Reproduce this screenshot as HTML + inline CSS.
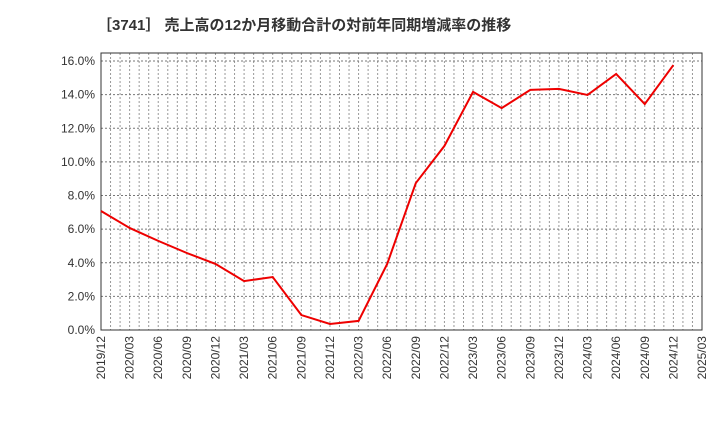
<!DOCTYPE html>
<html><head><meta charset="utf-8"><style>
body{margin:0;background:#fff;}
svg text{font-family:"Liberation Sans","Noto Sans CJK JP",sans-serif;}
</style></head><body>
<svg id="c" width="720" height="440" xmlns="http://www.w3.org/2000/svg">
<text x="97" y="30" font-size="15" font-weight="bold" fill="#333">［3741］ 売上高の12か月移動合計の対前年同期増減率の推移</text>
<g id="grid"></g><g id="axes"></g><g id="series"></g>
</svg>
<script>
const categories=["2019/12","2020/03","2020/06","2020/09","2020/12","2021/03","2021/06","2021/09","2021/12","2022/03","2022/06","2022/09","2022/12","2023/03","2023/06","2023/09","2023/12","2024/03","2024/06","2024/09","2024/12","2025/03"];
const values=[7.08,6.07,5.3,4.58,3.93,2.91,3.15,0.89,0.36,0.54,3.93,8.74,10.95,14.16,13.2,14.28,14.34,13.98,15.23,13.44,15.76];
const yTicks=[0,2,4,6,8,10,12,14,16];
const NS="http://www.w3.org/2000/svg";
const L=101,R=702,T=53,B=330;
const x=i=>L+(R-L)*i/(categories.length-1);
const y=v=>B-(v/16)*(B-61);
function mk(tag,attrs,parent){const e=document.createElementNS(NS,tag);for(const k in attrs)e.setAttribute(k,attrs[k]);parent.appendChild(e);return e;}
const grid=document.getElementById('grid'),axes=document.getElementById('axes'),series=document.getElementById('series');
for(let m=1;m<(categories.length-1)*3;m++){const xx=L+(R-L)*m/((categories.length-1)*3);
const l=mk('line',{x1:xx,x2:xx,y1:T,y2:B,stroke:'#999','stroke-dasharray':'2,2','stroke-width':1},grid);

}
yTicks.forEach(v=>{const yy=y(v);
const l=mk('line',{x1:L,x2:R,y1:yy,y2:yy,stroke:'#777','stroke-dasharray':'2,2','stroke-width':1},grid);


const t=mk('text',{x:L-6,y:yy+4,'text-anchor':'end','font-size':12,fill:'#333'},axes);t.textContent=v.toFixed(1)+'%';

});
const fr=mk('rect',{x:L,y:T,width:R-L,height:B-T,fill:'none',stroke:'#333','stroke-width':1},axes);


categories.forEach((c,i)=>{const xx=x(i);
const t=mk('text',{x:0,y:0,'text-anchor':'end','font-size':12,fill:'#333',transform:`translate(${xx+4},${B+6}) rotate(-90)`},axes);t.textContent=c;

});
const p=mk('polyline',{points:values.map((v,i)=>x(i)+','+y(v)).join(' '),fill:'none',stroke:'#e00','stroke-width':2},series);


</script>
</body></html>
